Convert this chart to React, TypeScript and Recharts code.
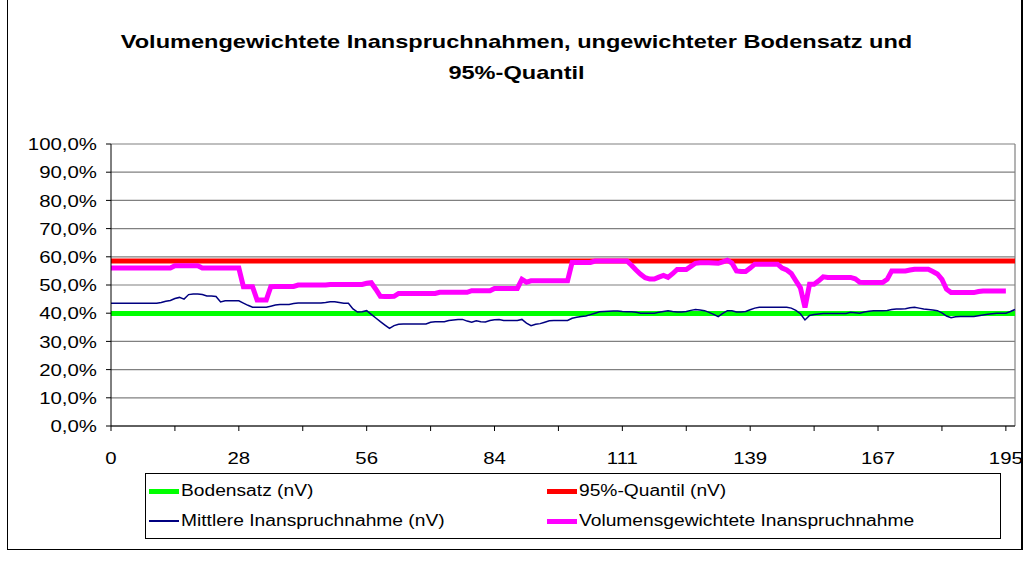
import React from 'react';
import {
  LineChart,
  Line,
  XAxis,
  YAxis,
  CartesianGrid,
  ReferenceLine,
} from 'recharts';

// x positions (category index) with tick marks, and the labels shown under every second tick
const X_TICKS = [0, 14, 28, 42, 56, 70, 84, 98, 112, 126, 140, 154, 168, 182, 196];
const X_LABELS = ['0', '', '28', '', '56', '', '84', '', '111', '', '139', '', '167', '', '195'];
const Y_TICKS = [0, 10, 20, 30, 40, 50, 60, 70, 80, 90, 100];

const BODENSATZ = 39.9;
const QUANTIL_95 = 58.5;

// Mittlere Inanspruchnahme (nV), index 0..198
const MITTLERE = [
  43.5, 43.5, 43.5, 43.5, 43.5, 43.5, 43.5, 43.5, 43.5, 43.5,
  43.5, 43.8, 44.2, 44.5, 45.2, 45.6, 45.0, 46.6, 46.8, 46.8,
  46.6, 46.1, 46.1, 45.9, 44.0, 44.4, 44.4, 44.4, 44.4, 43.6,
  42.8, 42.1, 42.1, 42.1, 42.1, 42.5, 42.9, 43.1, 43.1, 43.1,
  43.4, 43.6, 43.6, 43.6, 43.6, 43.6, 43.6, 43.8, 44.1, 44.1,
  43.8, 43.5, 43.5, 41.5, 40.4, 40.5, 40.9, 39.6, 38.3, 37.0,
  35.8, 34.6, 35.6, 36.1, 36.2, 36.2, 36.2, 36.2, 36.2, 36.2,
  36.8, 37.0, 37.0, 37.0, 37.4, 37.6, 37.8, 37.8, 37.2, 36.8,
  37.3, 37.0, 36.9, 37.4, 37.7, 37.8, 37.4, 37.4, 37.4, 37.4,
  37.8, 36.5, 35.6, 36.1, 36.3, 36.8, 37.3, 37.4, 37.4, 37.4,
  37.4, 38.2, 38.6, 38.8, 39.0, 39.5, 40.0, 40.5, 40.6, 40.7,
  40.8, 40.8, 40.6, 40.5, 40.5, 40.3, 40.0, 40.0, 40.0, 40.0,
  40.3, 40.6, 40.9, 40.6, 40.4, 40.4, 40.6, 41.0, 41.3, 41.1,
  40.9, 40.3, 39.6, 38.8, 39.9, 40.9, 40.9, 40.4, 40.4, 40.6,
  41.2, 41.8, 42.1, 42.1, 42.1, 42.1, 42.1, 42.1, 42.1, 41.8,
  41.0, 39.8, 37.6, 39.2, 39.5, 39.7, 39.9, 39.9, 39.9, 39.9,
  39.9, 39.9, 40.3, 40.2, 40.0, 40.4, 40.7, 40.9, 40.9, 40.9,
  41.0, 41.3, 41.5, 41.5, 41.6, 41.9, 42.1, 41.8, 41.5, 41.3,
  41.1, 40.9, 40.1, 39.0, 38.4, 38.7, 38.8, 38.8, 38.8, 38.8,
  39.1, 39.4, 39.6, 39.8, 40.0, 40.0, 40.0, 40.6, 41.3,
];

// Volumensgewichtete Inanspruchnahme, index 0..196
const VOLUMEN = [
  56.0, 56.0, 56.0, 56.0, 56.0, 56.0, 56.0, 56.0, 56.0, 56.0,
  56.0, 56.0, 56.0, 56.0, 56.8, 56.8, 56.8, 56.8, 56.8, 56.8,
  56.0, 56.0, 56.0, 56.0, 56.0, 56.0, 56.0, 56.0, 56.0, 49.4,
  49.4, 49.4, 44.7, 44.7, 44.7, 49.4, 49.5, 49.5, 49.5, 49.5,
  49.5, 50.0, 50.0, 50.0, 50.0, 50.0, 50.0, 50.0, 50.2, 50.2,
  50.2, 50.2, 50.2, 50.2, 50.2, 50.2, 50.6, 50.8, 48.5, 46.0,
  45.9, 45.9, 46.0, 47.0, 47.0, 47.0, 47.0, 47.0, 47.0, 47.0,
  47.0, 47.0, 47.4, 47.4, 47.4, 47.4, 47.4, 47.4, 47.4, 48.0,
  48.0, 48.0, 48.0, 48.0, 48.8, 48.8, 48.8, 48.8, 48.8, 48.8,
  52.0, 51.0, 51.5, 51.5, 51.5, 51.5, 51.5, 51.5, 51.5, 51.5,
  51.5, 58.0, 58.0, 58.0, 58.0, 58.0, 58.5, 58.5, 58.5, 58.5,
  58.5, 58.5, 58.5, 58.5, 57.0, 55.3, 53.8, 52.6, 52.1, 52.1,
  52.8, 53.4, 52.7, 54.0, 55.5, 55.5, 55.5, 56.6, 57.7, 57.9,
  57.9, 57.9, 57.8, 57.7, 58.2, 58.8, 57.8, 55.0, 54.8, 54.8,
  56.0, 57.4, 57.4, 57.4, 57.4, 57.4, 57.4, 56.0, 55.3, 54.1,
  51.5, 49.0, 42.0, 50.3, 50.3, 51.5, 52.9, 52.7, 52.7, 52.7,
  52.7, 52.7, 52.7, 52.2, 51.0, 50.9, 50.9, 50.9, 50.9, 50.9,
  52.0, 55.0, 55.0, 55.0, 55.0, 55.3, 55.6, 55.6, 55.6, 55.6,
  54.8, 53.9, 52.0, 48.5, 47.3, 47.3, 47.3, 47.3, 47.3, 47.3,
  47.7, 47.9, 47.9, 47.9, 47.9, 47.9, 47.9,
];

const data = MITTLERE.map((m, i) => ({
  i,
  bodensatz: BODENSATZ,
  quantil: QUANTIL_95,
  mittlere: m,
  volumen: i < VOLUMEN.length ? VOLUMEN[i] : null,
}));

const FONT = '"Liberation Sans", Arial, sans-serif';

const fmtPct = (v: number) => v.toFixed(1).replace('.', ',') + '%';

const YTick = (props: any) => {
  const { x, y, payload } = props;
  return (
    <g transform={`translate(${x},${y})`}>
      <text x={0} y={0} dy="0.36em" textAnchor="end" fontSize={17} fill="#000"
        fontFamily={FONT} transform="scale(1.2,1)">
        {fmtPct(payload.value)}
      </text>
    </g>
  );
};

const XTick = (props: any) => {
  const { x, y, payload } = props;
  const idx = X_TICKS.indexOf(payload.value);
  const label = idx >= 0 ? X_LABELS[idx] : '';
  if (!label) return null;
  return (
    <g transform={`translate(${x},${y})`}>
      <text x={0} y={0} dy="0.71em" textAnchor="middle" fontSize={17} fill="#000"
        fontFamily={FONT} transform="scale(1.2,1)">
        {label}
      </text>
    </g>
  );
};

const legendItems = [
  { label: 'Bodensatz (nV)', color: '#00FF00', width: 5, left: 149, top: 491 },
  { label: '95%-Quantil (nV)', color: '#FF0000', width: 5, left: 547, top: 491 },
  { label: 'Mittlere Inanspruchnahme (nV)', color: '#000080', width: 1.5, left: 149, top: 521 },
  { label: 'Volumensgewichtete Inanspruchnahme', color: '#FF00FF', width: 5, left: 547, top: 521 },
];

export default function App() {
  return (
    <div style={{ position: 'absolute', left: 0, top: 0, width: 1025, height: 565, background: '#fff', fontFamily: FONT, overflow: 'hidden' }}>
      {/* chart frame */}
      <div style={{ position: 'absolute', left: 7, top: -1, width: 1016, height: 551, border: '1px solid #000', borderRightWidth: 2, boxSizing: 'border-box' }} />

      {/* title */}
      <div style={{ position: 'absolute', left: 4, top: 26, width: 1025, textAlign: 'center', fontWeight: 'bold', fontSize: 19, lineHeight: '31px', color: '#000' }}>
        <div style={{ transform: 'scaleX(1.24)' }}>Volumengewichtete Inanspruchnahmen, ungewichteter Bodensatz und</div>
        <div style={{ transform: 'scaleX(1.24)' }}>95%-Quantil</div>
      </div>

      <div style={{ position: 'absolute', left: 0, top: 0 }}>
        <LineChart width={1025} height={565} data={data}
          margin={{ top: 144, right: 10, bottom: 109, left: 11 }}>
          <CartesianGrid vertical={false} stroke="#808080" strokeWidth={1.2} />
          <XAxis dataKey="i" type="number" domain={[0, 198]} ticks={X_TICKS} interval={0}
            height={30} tickSize={5} tickMargin={21} stroke="#000" tick={<XTick />} />
          <YAxis domain={[0, 100]} ticks={Y_TICKS} interval={0} width={100}
            tickSize={5} tickMargin={9} stroke="#000" tick={<YTick />} />
          <ReferenceLine x={198} stroke="#808080" strokeWidth={1.2} />
          <Line dataKey="bodensatz" type="linear" stroke="#00FF00" strokeWidth={5} dot={false} isAnimationActive={false} />
          <Line dataKey="quantil" type="linear" stroke="#FF0000" strokeWidth={5} dot={false} isAnimationActive={false} />
          <Line dataKey="mittlere" type="linear" stroke="#000080" strokeWidth={1.5} dot={false} isAnimationActive={false} />
          <Line dataKey="volumen" type="linear" stroke="#FF00FF" strokeWidth={5} dot={false} isAnimationActive={false} />
        </LineChart>
      </div>

      {/* legend */}
      <div style={{ position: 'absolute', left: 145, top: 473, width: 856, height: 66, border: '1px solid #000', boxSizing: 'border-box' }} />
      {legendItems.map((it) => (
        <div key={it.label} style={{ position: 'absolute', left: it.left, top: it.top - 10, height: 20, display: 'flex', alignItems: 'center', whiteSpace: 'nowrap' }}>
          <div style={{ width: 30, height: it.width, background: it.color }} />
          <div style={{ fontSize: 16, color: '#000', transform: 'scaleX(1.2)', transformOrigin: 'left center', marginLeft: 2 }}>{it.label}</div>
        </div>
      ))}
    </div>
  );
}
